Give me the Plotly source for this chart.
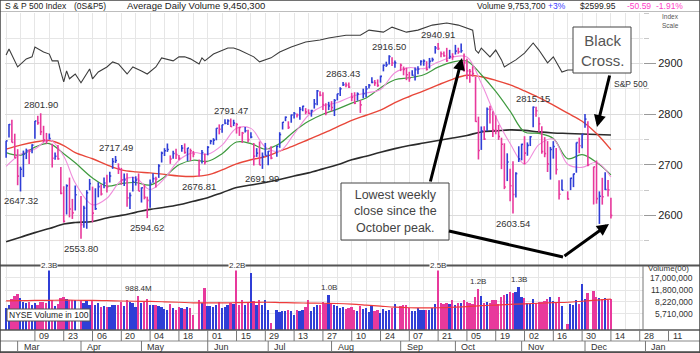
import numpy as np
import pandas as pd
import plotly.graph_objects as go

W, H = 700, 353

# ------------------------------------------------------------------ data
HOLIDAYS = ["2018-03-30", "2018-05-28", "2018-07-04", "2018-09-03", "2018-11-22", "2018-12-05"]
trade_dates = [d.strftime("%Y-%m-%d") for d in pd.bdate_range("2018-02-23", "2018-12-14")
               if d.strftime("%Y-%m-%d") not in HOLIDAYS]

high = [
    2747.76, 2780.64, 2789.15, 2761.52,
    2730.89, 2696.25, 2728.09, 2732.08, 2730.60, 2740.45, 2786.57, 2796.98, 2801.90, 2777.11, 2763.03,
    2761.85, 2741.38, 2724.22, 2739.14, 2695.68, 2657.67, 2661.36, 2674.78, 2632.65, 2659.07,
    2638.30, 2619.14, 2649.86, 2672.08, 2656.88, 2653.55, 2665.45, 2661.43, 2674.72, 2680.26, 2686.49,
    2713.34, 2717.49, 2702.84, 2693.94, 2682.86, 2683.55, 2645.30, 2676.48, 2677.35, 2682.87,
    2655.27, 2660.87, 2637.14, 2670.93, 2683.35, 2676.34, 2701.27, 2726.11, 2732.86, 2742.10, 2718.59,
    2727.76, 2731.96, 2719.50, 2739.19, 2742.24, 2733.33, 2731.97, 2727.36, 2710.67, 2729.34, 2722.50,
    2736.93, 2749.16, 2752.61, 2772.39, 2779.90, 2779.39, 2790.21, 2789.80, 2791.47, 2789.06, 2782.81,
    2774.99, 2765.05, 2774.86, 2769.28, 2764.17, 2742.94, 2732.91, 2746.09, 2724.34, 2743.26,
    2727.26, 2736.58, 2737.83, 2764.41, 2784.65, 2795.58, 2785.91, 2799.22, 2804.53, 2801.19, 2814.19,
    2816.76, 2812.05, 2809.70, 2808.61, 2829.99, 2848.03, 2845.57, 2843.17, 2821.74, 2824.46,
    2825.83, 2829.91, 2840.38, 2853.29, 2863.43, 2862.44, 2862.48, 2842.20, 2843.40, 2843.11, 2827.95,
    2850.49, 2855.63, 2859.76, 2873.23, 2867.54, 2868.78, 2876.16, 2898.25, 2903.77, 2916.50, 2912.46,
    2906.32,
    2900.18, 2894.21, 2892.05, 2883.81, 2886.93, 2892.52, 2894.65, 2906.76, 2908.30, 2904.65, 2911.17,
    2911.79, 2934.80, 2940.91, 2923.79, 2923.95, 2931.15, 2927.22, 2920.53,
    2937.06, 2931.42, 2939.86, 2919.78, 2909.64, 2889.45, 2894.83, 2874.02, 2795.14, 2775.77, 2775.99,
    2813.46, 2816.94, 2806.04, 2797.77, 2778.94, 2753.59, 2742.59, 2722.70, 2692.38, 2706.85, 2685.43,
    2736.69,
    2741.67, 2756.55, 2744.27, 2756.82, 2815.15, 2814.75, 2794.10, 2775.99, 2754.60, 2746.80, 2735.38,
    2746.75, 2733.16, 2669.44, 2670.73, 2647.55, 2674.35, 2682.53, 2744.00, 2753.75, 2760.88,
    2800.18, 2785.93, 2696.15, 2708.54, 2647.51, 2674.35, 2685.44, 2670.19, 2635.07,
]
low = [
    2713.74, 2753.78, 2744.22, 2713.54,
    2659.65, 2647.32, 2675.75, 2711.26, 2701.74, 2722.65, 2751.54, 2779.26, 2758.68, 2744.38, 2741.47,
    2749.97, 2694.59, 2710.05, 2709.79, 2641.59, 2585.89, 2601.81, 2596.12, 2593.06, 2609.72,
    2553.80, 2575.49, 2573.61, 2649.58, 2586.27, 2610.79, 2635.78, 2639.25, 2653.83, 2645.05, 2665.16,
    2692.05, 2703.63, 2681.90, 2660.61, 2657.99, 2617.32, 2612.67, 2647.16, 2659.01, 2648.04,
    2625.41, 2631.70, 2594.62, 2615.32, 2664.70, 2655.20, 2674.14, 2704.54, 2717.45, 2725.47, 2701.91,
    2712.17, 2711.36, 2709.18, 2725.70, 2721.88, 2707.38, 2707.38, 2714.99, 2676.81, 2702.43, 2700.68,
    2718.70, 2740.54, 2739.51, 2748.46, 2760.16, 2763.59, 2780.17, 2778.78, 2774.65, 2776.52, 2761.73,
    2757.12, 2743.19, 2763.91, 2744.39, 2752.68, 2698.67, 2715.60, 2699.38, 2691.99, 2718.03,
    2698.95, 2711.16, 2716.02, 2733.52, 2769.76, 2786.24, 2770.77, 2783.14, 2791.69, 2793.39, 2789.24,
    2805.89, 2799.77, 2800.01, 2795.14, 2811.12, 2817.73, 2835.26, 2808.34, 2798.11, 2808.06,
    2805.85, 2796.34, 2827.37, 2835.98, 2855.92, 2853.09, 2851.98, 2825.81, 2819.88, 2826.58, 2802.49,
    2831.44, 2833.73, 2850.62, 2861.32, 2856.05, 2854.03, 2862.35, 2884.69, 2893.50, 2898.40, 2895.22,
    2891.73,
    2885.13, 2876.92, 2867.29, 2864.12, 2875.94, 2866.78, 2879.20, 2896.39, 2895.77, 2886.16, 2890.43,
    2903.77, 2919.73, 2927.11, 2912.63, 2913.70, 2903.28, 2909.27, 2907.50,
    2917.91, 2919.37, 2921.36, 2883.92, 2869.29, 2862.08, 2874.27, 2784.86, 2710.51, 2729.44, 2749.03,
    2766.91, 2781.81, 2755.18, 2760.27, 2749.22, 2691.43, 2651.89, 2667.84, 2628.16, 2603.54, 2635.34,
    2705.60,
    2708.85, 2700.44, 2717.94, 2737.08, 2774.13, 2794.99, 2764.24, 2722.00, 2714.98, 2685.75, 2670.75,
    2712.16, 2681.09, 2631.52, 2649.82, 2631.09, 2649.97, 2655.89, 2684.38, 2722.94, 2732.76,
    2773.38, 2697.18, 2621.53, 2623.14, 2583.23, 2621.30, 2650.26, 2637.27, 2593.84,
]
close = [
    2747.30, 2779.60, 2744.28, 2713.83,
    2677.67, 2691.25, 2720.94, 2728.12, 2726.80, 2738.97, 2786.57, 2783.02, 2765.31, 2749.48, 2747.33,
    2752.01, 2712.92, 2716.94, 2711.93, 2643.69, 2588.26, 2658.55, 2612.62, 2605.00, 2640.87,
    2581.88, 2614.45, 2644.69, 2662.84, 2604.47, 2613.16, 2656.87, 2642.19, 2663.99, 2656.30, 2677.84,
    2706.39, 2708.64, 2693.13, 2670.14, 2670.29, 2634.56, 2639.40, 2666.94, 2669.91, 2648.05,
    2654.80, 2635.67, 2629.73, 2663.42, 2672.63, 2671.92, 2697.79, 2723.07, 2727.72, 2730.13, 2711.45,
    2722.46, 2720.13, 2712.97, 2733.01, 2724.44, 2733.29, 2727.76, 2721.33, 2689.86, 2724.01, 2705.27,
    2734.62, 2746.87, 2748.80, 2772.35, 2770.37, 2779.03, 2782.00, 2786.85, 2775.63, 2782.49, 2779.66,
    2773.75, 2762.59, 2767.32, 2749.76, 2754.88, 2717.07, 2723.06, 2699.63, 2716.31, 2718.37,
    2726.71, 2713.22, 2736.61, 2759.82, 2784.17, 2793.84, 2774.02, 2798.29, 2801.31, 2798.43, 2809.55,
    2815.62, 2804.49, 2801.83, 2806.98, 2820.40, 2846.07, 2837.44, 2818.82, 2802.60, 2816.29,
    2813.36, 2827.22, 2840.35, 2850.40, 2858.45, 2857.70, 2853.58, 2833.28, 2821.93, 2839.96, 2818.37,
    2840.69, 2850.13, 2857.05, 2862.96, 2861.82, 2856.98, 2874.69, 2896.74, 2897.52, 2914.04, 2901.13,
    2901.52,
    2896.72, 2888.60, 2878.05, 2871.68, 2877.13, 2887.89, 2888.92, 2904.18, 2904.98, 2888.80, 2904.31,
    2907.95, 2930.75, 2929.67, 2919.37, 2915.56, 2905.97, 2914.00, 2913.98,
    2924.59, 2923.43, 2925.51, 2901.61, 2885.57, 2884.43, 2880.34, 2785.68, 2728.37, 2767.13, 2750.79,
    2809.92, 2809.21, 2768.78, 2767.78, 2755.88, 2740.69, 2656.10, 2705.57, 2658.69, 2641.25, 2682.63,
    2711.74,
    2740.37, 2723.06, 2738.31, 2755.45, 2813.89, 2806.83, 2781.01, 2726.22, 2722.18, 2701.58, 2730.20,
    2736.27, 2690.73, 2641.89, 2649.93, 2632.56, 2673.45, 2682.17, 2743.79, 2737.80, 2760.17,
    2790.37, 2700.06, 2695.95, 2633.08, 2637.72, 2636.78, 2651.07, 2650.54, 2599.95,
]
prev_close_first = 2703.96  # close of the session before the first bar

# NYSE volume, millions of shares
volume = [
    680, 760, 900, 980,
    1050, 930, 820, 800, 820, 760, 800, 760, 830, 820, 800, 2300, 880, 720, 780, 930, 960, 900, 870, 880, 860,
    880, 790, 870, 740, 860, 740, 800, 700, 720, 700, 700, 740, 760, 740, 820, 720, 880, 820, 800, 700, 988.4,
    790, 850, 900, 760, 740, 760, 720, 700, 660, 640, 780, 680, 650, 700, 690, 660, 700, 690, 560, 880, 790, 1250,
    720, 720, 700, 760, 830, 690, 700, 740, 800, 780, 2200, 760, 860, 760, 800, 1950, 850, 740, 870, 760, 880,
    650, 440, 640, 600, 620, 620, 640, 620, 560, 640, 620, 650, 710, 860, 620, 710, 740, 760, 820, 780, 1000,
    790, 760, 720, 680, 700, 660, 680, 700, 640, 620, 730, 660, 680, 600, 720, 620, 650, 590, 660, 620, 640, 680, 770,
    720, 750, 740, 680, 620, 620, 690, 650, 640, 650, 650, 690, 780, 2500, 800, 780, 800, 770, 860,
    760, 790, 800, 870, 830, 800, 770, 950, 1200, 980, 790, 820, 800, 860, 860, 780, 950, 1000, 1040, 1100, 1080, 1120, 1300,
    950, 940, 800, 780, 900, 800, 820, 820, 850, 900, 950, 850, 820, 960, 720, 420, 770, 760, 880, 780, 1400,
    900, 1080, 1150, 950, 930, 900, 920, 880, 900,
]

# moving averages (weekly samples)
ma_dates = ["2018-02-23", "2018-03-02", "2018-03-09", "2018-03-16", "2018-03-23", "2018-03-29",
            "2018-04-06", "2018-04-13", "2018-04-20", "2018-04-27", "2018-05-04", "2018-05-11",
            "2018-05-18", "2018-05-25", "2018-06-01", "2018-06-08", "2018-06-15", "2018-06-22",
            "2018-06-29", "2018-07-06", "2018-07-13", "2018-07-20", "2018-07-27", "2018-08-03",
            "2018-08-10", "2018-08-17", "2018-08-24", "2018-08-31", "2018-09-07", "2018-09-14",
            "2018-09-21", "2018-09-28", "2018-10-05", "2018-10-12", "2018-10-19", "2018-10-26",
            "2018-11-02", "2018-11-09", "2018-11-16", "2018-11-23", "2018-11-30", "2018-12-07",
            "2018-12-14"]
ma10 = [2697, 2721, 2731, 2750, 2717, 2664, 2621, 2634, 2669, 2674, 2651, 2673, 2709, 2724, 2721,
        2739, 2772, 2772, 2735, 2727, 2761, 2798, 2816, 2823, 2835, 2842, 2849, 2882, 2892, 2890,
        2903, 2913, 2913, 2861, 2795, 2742, 2702, 2740, 2751, 2701, 2695, 2705, 2676]
ema21 = [2724, 2719, 2735, 2742, 2722, 2704, 2674, 2658, 2663, 2665, 2660, 2676, 2700, 2709, 2707,
         2722, 2745, 2742, 2731, 2742, 2766, 2786, 2800, 2810, 2822, 2832, 2852, 2868, 2872, 2878,
         2893, 2903, 2905, 2878, 2845, 2806, 2765, 2762, 2752, 2712, 2720, 2705, 2680]
ma50 = [2731, 2739, 2745, 2748, 2738, 2724, 2712, 2700, 2690, 2686, 2684, 2681, 2678, 2677, 2680,
        2690, 2702, 2710, 2716, 2727, 2738, 2750, 2762, 2775, 2788, 2798, 2808, 2823, 2835, 2846,
        2858, 2869, 2877, 2874, 2867, 2858, 2846, 2833, 2818, 2802, 2786, 2762, 2730]
ma200 = [2548, 2557, 2566, 2574, 2583, 2586, 2588, 2595, 2600, 2606, 2612, 2616, 2621, 2628, 2635,
         2645, 2655, 2660, 2665, 2671, 2678, 2684, 2692, 2700, 2710, 2717, 2725, 2732, 2738, 2743,
         2748, 2753, 2758, 2765, 2767, 2769, 2768, 2765, 2763, 2762, 2761, 2760, 2759]
vol_ma50 = [850, 855, 860, 865, 868, 866, 862, 855, 846, 840, 835, 826, 815, 800, 800, 798, 805, 812,
            815, 808, 800, 795, 790, 785, 770, 748, 725, 702, 690, 686, 690, 700, 712, 735, 748, 762,
            778, 790, 805, 815, 840, 868, 895]

# comparison / relative-strength line (arbitrary 0-100 units)
rs_dates = ["2018-02-23", "2018-02-26", "2018-03-01", "2018-03-06", "2018-03-08", "2018-03-09",
            "2018-03-14", "2018-03-16", "2018-03-19", "2018-03-21", "2018-03-22", "2018-03-23",
            "2018-03-26", "2018-03-27", "2018-03-29", "2018-04-02", "2018-04-05", "2018-04-06",
            "2018-04-10", "2018-04-12", "2018-04-13", "2018-04-17", "2018-04-19", "2018-04-24",
            "2018-04-26", "2018-05-01", "2018-05-03", "2018-05-08", "2018-05-10", "2018-05-16",
            "2018-05-18", "2018-05-22", "2018-05-24", "2018-05-29", "2018-05-30", "2018-05-31",
            "2018-06-05", "2018-06-12", "2018-06-14", "2018-06-18", "2018-06-25", "2018-06-27",
            "2018-07-03", "2018-07-06", "2018-07-12", "2018-07-19", "2018-07-26", "2018-07-31",
            "2018-08-08", "2018-08-15", "2018-08-20", "2018-08-27", "2018-08-30", "2018-09-06",
            "2018-09-12", "2018-09-19", "2018-09-26", "2018-10-02", "2018-10-09", "2018-10-10",
            "2018-10-11", "2018-10-12", "2018-10-17", "2018-10-19", "2018-10-23", "2018-10-24",
            "2018-10-30", "2018-11-02", "2018-11-07", "2018-11-09", "2018-11-14", "2018-11-16",
            "2018-11-21", "2018-11-23", "2018-11-28", "2018-12-03", "2018-12-07", "2018-12-11",
            "2018-12-14"]
rs_vals = [83.3, 85.7, 78.6, 81.8, 82.6, 86.5, 84.5, 83.7, 81.0, 81.0, 76.6, 72.7,
           77.0, 73.9, 75.8, 72.3, 77.8, 73.9, 76.6, 77.8, 78.6, 80.6, 79.8, 75.8,
           78.6, 77.0, 75.8, 78.6, 82.2, 81.0, 82.6, 82.6, 81.8, 79.8, 82.2, 81.0,
           83.7, 86.1, 86.1, 85.3, 82.6, 80.6, 82.2, 84.5, 86.5, 88.5, 89.3, 90.1,
           91.2, 91.2, 93.2, 92.4, 94.4, 92.4, 93.2, 95.2, 96.0, 95.2, 93.2, 85.3,
           84.1, 86.1, 82.6, 85.3, 81.4, 78.6, 81.4, 84.1, 88.1, 85.3, 80.2, 82.6,
           76.6, 77.4, 77.4, 80.2, 76.6, 77.4, 76.6]

# labelled highs / lows
hl_dates = ["2018-03-13", "2018-03-02", "2018-04-18", "2018-04-02", "2018-05-03", "2018-05-29",
            "2018-06-13", "2018-06-28", "2018-08-07", "2018-08-29", "2018-09-21", "2018-10-29",
            "2018-11-07"]
hl_kind = ["high", "low", "high", "low", "low", "low", "high", "low", "high", "high", "high", "low", "high"]

vol_label_dates = ["2018-03-16", "2018-04-30", "2018-06-15", "2018-07-31", "2018-09-21", "2018-10-11",
                   "2018-10-31"]

vol_ticks = [1700, 1180, 822, 571]        # millions of shares
price_ticks = [2600, 2700, 2800, 2900]

tick_dates = pd.date_range("2018-03-09", "2019-01-11", freq="14D")
month_starts = ["2018-03-01", "2018-04-02", "2018-05-01", "2018-06-01", "2018-07-02", "2018-08-01",
                "2018-09-04", "2018-10-01", "2018-11-01", "2018-12-03", "2019-01-01"]
month_names = ["Mar", "Apr", "May", "Jun", "Jul", "Aug", "Sep", "Oct", "Nov", "Dec", "Jan"]

assert len(high) == len(low) == len(close) == len(volume) == len(trade_dates)

# ------------------------------------------------------------------ helpers
BASE = "2018-02-26"


def wd(d):
    return int(np.busday_count(BASE, pd.Timestamp(d).strftime("%Y-%m-%d")))


def px(x):
    return x / W


def py(y):
    return 1 - y / H


idx = np.array([wd(d) for d in trade_dates])
prev = [prev_close_first] + close[:-1]
up = np.array([c >= p for c, p in zip(close, prev)])

BLUE = "#2f3ed6"
PINK = "#e8399c"

X_RANGE = [-1.39, 220.14]
STRIP_RANGE = [-3.126, 239.93]
PRICE_DOM = [py(265), py(13)]
VOL_DOM = [py(330), py(266)]
STRIP_DOM = [py(352), py(330)]
VOL_RANGE = [2.546, 3.388]

fig = go.Figure()


def bars(mask, color):
    xs, ys = [], []
    for i in np.where(mask)[0]:
        xs += [idx[i], idx[i], None, idx[i], idx[i] + 0.5, None]
        ys += [low[i], high[i], None, close[i], close[i], None]
    fig.add_trace(go.Scatter(x=xs, y=ys, mode="lines", line=dict(color=color, width=1.6),
                             hoverinfo="skip", showlegend=False))


ma_x = [wd(d) for d in ma_dates]
fig.add_trace(go.Scatter(x=ma_x, y=ma200, mode="lines", line=dict(color="#2b2b2b", width=1.6, shape="spline"),
                         showlegend=False))
fig.add_trace(go.Scatter(x=ma_x, y=ma50, mode="lines", line=dict(color="#e8473a", width=1.4, shape="spline"),
                         showlegend=False))
fig.add_trace(go.Scatter(x=ma_x, y=ema21, mode="lines", line=dict(color="#3f9a3f", width=1.2, shape="spline"),
                         showlegend=False))
fig.add_trace(go.Scatter(x=ma_x, y=ma10, mode="lines", line=dict(color="#f08fdc", width=1.1, shape="spline"),
                         showlegend=False))
bars(up, BLUE)
bars(~up, PINK)

fig.add_trace(go.Scatter(x=[wd(d) for d in rs_dates], y=rs_vals, yaxis="y3", mode="lines",
                         line=dict(color="#3c3c3c", width=1.1), showlegend=False))

fig.add_trace(go.Bar(x=idx, y=volume, yaxis="y2", width=0.62,
                     marker=dict(color=[BLUE if u else PINK for u in up], line=dict(width=0)),
                     showlegend=False))
fig.add_trace(go.Scatter(x=ma_x, y=vol_ma50, yaxis="y2", mode="lines",
                         line=dict(color="#ee3b3b", width=1.2, shape="spline"), showlegend=False))

# ------------------------------------------------------------------ layout
GRID = "#e6e6e6"
fig.update_layout(
    width=W, height=H, margin=dict(l=0, r=0, t=0, b=0),
    paper_bgcolor="white", plot_bgcolor="white",
    font=dict(family="Liberation Sans, Arial, sans-serif", size=10, color="#222"),
    showlegend=False, bargap=0,
    xaxis=dict(domain=[px(5), px(643)], range=X_RANGE, tick0=4, dtick=5, showgrid=True,
               gridcolor=GRID, gridwidth=1, showticklabels=False, zeroline=False, showline=False,
               anchor="y"),
    yaxis=dict(domain=PRICE_DOM, range=[2502, 3000], side="right", tickvals=price_ticks,
               ticks="outside", ticklen=12, tickcolor="#9a9a9a", showgrid=True, gridcolor="#dcdcdc",
               tickfont=dict(size=11, color="#222"), zeroline=False, showline=False,
               minor=dict(dtick=50, tick0=2550, showgrid=True, gridcolor=GRID, ticks="outside",
                          ticklen=5, tickcolor="#c8c8c8")),
    yaxis2=dict(domain=VOL_DOM, type="log", range=VOL_RANGE, tickvals=vol_ticks, showticklabels=False,
                showgrid=True, gridcolor=GRID, zeroline=False, anchor="x"),
    yaxis3=dict(domain=PRICE_DOM, overlaying="y", range=[0, 100], visible=False),
    xaxis2=dict(domain=[0, 1], range=STRIP_RANGE, visible=False, anchor="y4"),
    yaxis4=dict(domain=STRIP_DOM, range=[0, 2], visible=False, anchor="x2"),
)
# invisible trace that creates the date-strip subplot
fig.add_trace(go.Scatter(x=[0], y=[0], xaxis="x2", yaxis="y4", mode="markers",
                         marker=dict(opacity=0), hoverinfo="skip", showlegend=False))

shapes = []
ann = []


def line_px(x0, y0, x1, y1, color="#333", width=1):
    shapes.append(dict(type="line", xref="paper", yref="paper", x0=px(x0), y0=py(y0), x1=px(x1), y1=py(y1),
                       line=dict(color=color, width=width), layer="above"))


def text_px(x, y, t, size=10, color="#222", xanchor="center", yanchor="middle", **kw):
    ann.append(dict(x=px(x), y=py(y), xref="paper", yref="paper", text=t, showarrow=False,
                    xanchor=xanchor, yanchor=yanchor, font=dict(size=size, color=color), **kw))


def arrow_px(hx, hy, tx, ty):
    ann.append(dict(x=px(hx), y=py(hy), xref="paper", yref="paper", text="", showarrow=True,
                    ax=tx - hx, ay=ty - hy, arrowhead=2, arrowsize=0.8, arrowwidth=3, arrowcolor="black",
                    xanchor="center", yanchor="middle"))


# frames / separators
line_px(0, 11.5, 700, 11.5, "#bdbdbd", 1)
line_px(0, 265.5, 700, 265.5, "#555", 2)
line_px(0, 330, 700, 330, "#555", 1.3)
line_px(0, 341, 700, 341, "#888", 1)
line_px(0, 352, 700, 352, "#444", 1.3)
line_px(643, 266, 643, 330, "#777", 1)
shapes.append(dict(type="rect", xref="paper", yref="paper", x0=0, y0=0, x1=1, y1=1,
                   line=dict(color="#444", width=1.5)))

# date strip
for d in tick_dates:
    shapes.append(dict(type="line", xref="x2", yref="y4", x0=wd(d), x1=wd(d), y0=1, y1=2,
                       line=dict(color="#777", width=1)))
    ann.append(dict(xref="x2", yref="y4", x=wd(d), y=1.5, text=d.strftime("%d"), showarrow=False,
                    xanchor="left", yanchor="middle", xshift=2, font=dict(size=9, color="#333")))
for d, m in zip(month_starts, month_names):
    shapes.append(dict(type="line", xref="x2", yref="y4", x0=wd(d), x1=wd(d), y0=0, y1=1,
                       line=dict(color="#777", width=1)))
    ann.append(dict(xref="x2", yref="y4", x=wd(d), y=0.5, text=m, showarrow=False,
                    xanchor="left", yanchor="middle", xshift=4, font=dict(size=9, color="#333")))

# high / low labels
for d, k in zip(hl_dates, hl_kind):
    i = trade_dates.index(d)
    v = high[i] if k == "high" else low[i]
    ann.append(dict(x=idx[i], y=v, xref="x", yref="y", text=f"{v:.2f}", showarrow=False,
                    xanchor="center", yanchor="bottom" if k == "high" else "top",
                    yshift=1 if k == "high" else -2, font=dict(size=9.5, color="#333")))

# volume labels
for d in vol_label_dates:
    i = trade_dates.index(d)
    v = volume[i]
    t = f"{v / 1000:.1f}B" if v >= 1000 else f"{v:.1f}M"
    if v >= 2000:
        ann.append(dict(x=idx[i], y=py(265.5), xref="x", yref="paper", text=t, showarrow=False,
                        xanchor="center", yanchor="middle", bgcolor="white", borderpad=0,
                        font=dict(size=8, color="#333")))
    else:
        ann.append(dict(x=idx[i], y=np.log10(v), xref="x", yref="y2", text=t, showarrow=False,
                        xanchor="center", yanchor="bottom", yshift=1, font=dict(size=8, color="#333")))

# volume axis labels (shares in hundreds)
for v in vol_ticks:
    ann.append(dict(x=px(695), y=np.log10(v), xref="paper", yref="y2", text=f"{int(round(v * 1e4)):,}",
                    showarrow=False, xanchor="right", yanchor="middle", font=dict(size=8.5, color="#333")))
text_px(646, 268.5, "Volume(00)", 8, "#333", xanchor="left")
text_px(660, 17, "Index", 6.5, "#555", xanchor="left")
text_px(660, 25, "Scale", 6.5, "#555", xanchor="left")
text_px(612, 84, "S&P 500", 8.5, "#333", xanchor="left")

# header
text_px(3, 6, "S & P 500 Index", 8.5, xanchor="left")
text_px(72, 6, "(0S&P5)", 8.5, xanchor="left")
text_px(125, 6, "Average Daily Volume 9,450,300", 9.5, xanchor="left")
text_px(548, 6, "Volume 9,753,700", 8.5, xanchor="right")
text_px(568, 6, "+3%", 8.5, "#3a3aff", xanchor="right")
text_px(618, 6, "$2599.95", 8.5, xanchor="right")
text_px(653, 6, "-50.59", 8.5, "#ff3fc8", xanchor="right")
text_px(685, 6, "-1.91%", 8.5, "#ff3fc8", xanchor="right")

# NYSE volume box
shapes.append(dict(type="rect", xref="paper", yref="paper", x0=px(7), x1=px(90), y0=py(321), y1=py(309),
                   line=dict(color="#555", width=1), fillcolor="white", layer="above"))
text_px(48.5, 315, "NYSE Volume in 100", 8.5, "#222")

# Black Cross callout
shapes.append(dict(type="rect", xref="paper", yref="paper", x0=px(573), x1=px(631), y0=py(73), y1=py(27),
                   line=dict(color="#444", width=1), fillcolor="white", layer="above"))
text_px(602, 50, "Black<br>Cross.", 15, "#555")
arrow_px(597, 127, 610, 74)

# Lowest weekly close callout
shapes.append(dict(type="rect", xref="paper", yref="paper", x0=px(341), x1=px(449), y0=py(240), y1=py(183),
                   line=dict(color="#444", width=1), fillcolor="white", layer="above"))
text_px(395, 211.5, "Lowest weekly<br>close since the<br>October peak.", 12.5, "#444")
arrow_px(462, 58, 430, 183)
line_px(449, 231, 563, 257, "black", 3)
arrow_px(609, 224, 563, 257)

fig.update_layout(shapes=shapes, annotations=ann)
fig.write_html("out.html")
